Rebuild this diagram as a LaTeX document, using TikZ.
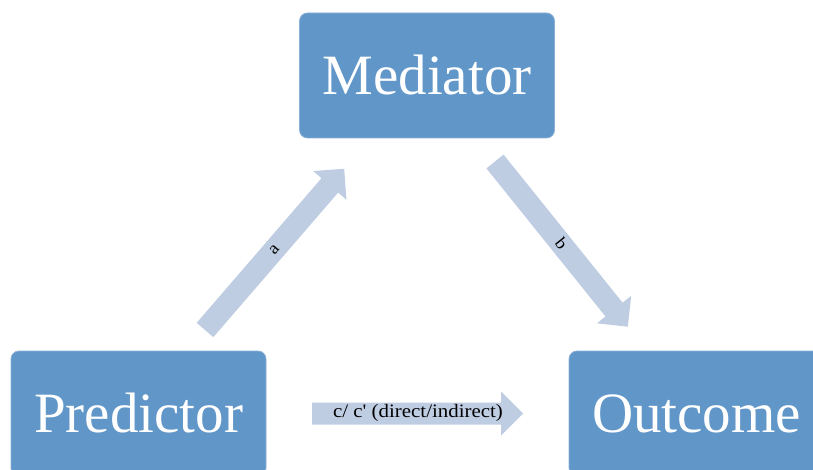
\documentclass[tikz,border=0pt]{standalone}
\usepackage{fontspec}
\setmainfont{Liberation Serif}
\newfontfamily\lblfont[FakeStretch=1.1]{Liberation Serif}
\definecolor{boxfill}{RGB}{97,150,201}
\definecolor{boxline}{RGB}{140,176,216}
\definecolor{arrfill}{RGB}{191,205,227}
\tikzset{
  box/.style={draw=boxline, line width=0.8pt, fill=boxfill, rounded corners=8pt,
    minimum width=255pt, minimum height=125pt, inner sep=0pt,
    text=white, font=\fontsize{57}{60}\selectfont},
  arrshape/.style={fill=arrfill, draw=none},
  arrlbl/.style={font=\lblfont\fontsize{17}{19}\selectfont, text=black, inner sep=0pt}
}
% #1 tail x, #2 tail y, #3 angle, #4 length
\newcommand\blockarrow[4]{%
  \begin{scope}[shift={(#1,#2)}, rotate=#3]
    \fill[arrshape] (0,-11) -- ({#4-22},-11) -- ({#4-22},-22) -- (#4,0)
      -- ({#4-22},22) -- ({#4-22},11) -- (0,11) -- cycle;
  \end{scope}}
\begin{document}
\begin{tikzpicture}[x=1pt,y=-1pt]
\useasboundingbox (0,0) rectangle (813,470);
\clip (0,0) rectangle (813,470);
\node[box] (med) at (427,75.5) {Mediator};
\node[box] (pred) at (138.5,413.5) {Predictor};
\node[box] (out) at (696.5,413.5) {Outcome};
% arrow a
\coordinate (aT) at (205,330);
\blockarrow{205}{330}{49.2}{213}
\node[arrlbl, rotate=49.2] (la) at (274.5,249.5) {a};
% arrow b
\coordinate (bT) at (495,161.5);
\blockarrow{495}{161.5}{-51.2}{212}
\node[arrlbl, rotate=-51.2] (lb) at (561.5,244) {b};
% arrow c
\coordinate (cT) at (312,413.5);
\blockarrow{312}{413.5}{0}{211}
\node[arrlbl, font=\lblfont\fontsize{19}{21}\selectfont] (lc) at (418,412.5) {c/ c' (direct/indirect)};
\end{tikzpicture}
\end{document}
